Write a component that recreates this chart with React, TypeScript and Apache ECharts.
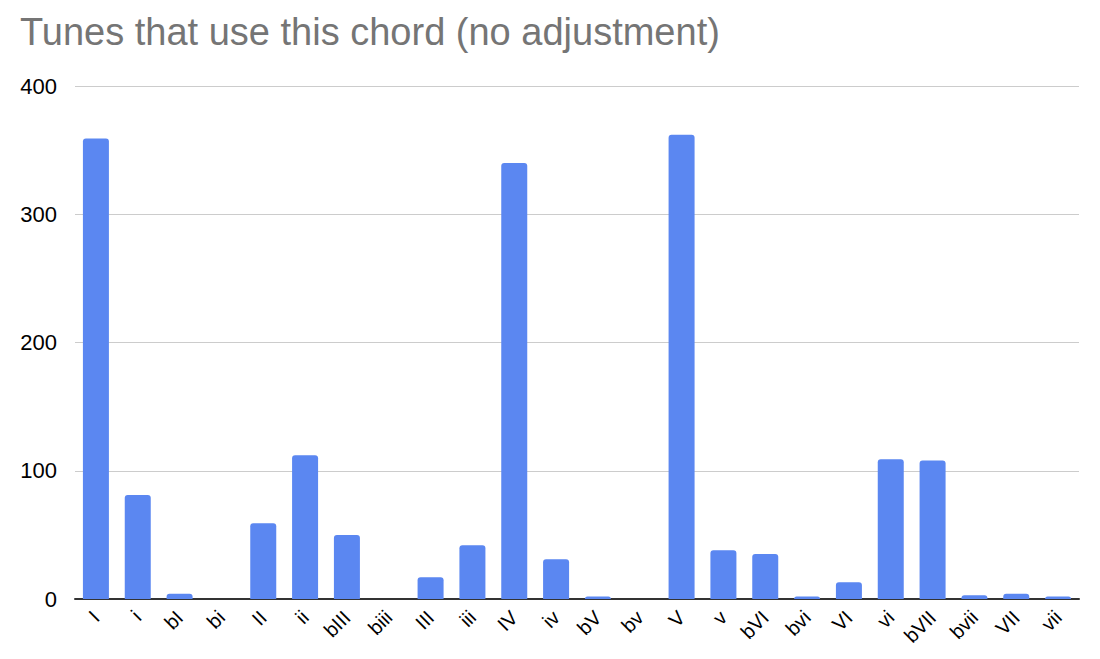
import React, { useEffect, useRef } from 'react';
import * as echarts from 'echarts';

const chords = [
  'I', 'i', 'bI', 'bi', 'II', 'ii', 'bIII', 'biii', 'III', 'iii', 'IV', 'iv',
  'bV', 'bv', 'V', 'v', 'bVI', 'bvi', 'VI', 'vi', 'bVII', 'bvii', 'VII', 'vii',
];

const tuneCounts = [
  359, 81, 4, 0, 59, 112, 50, 0, 17, 42, 340, 31,
  2, 0, 362, 38, 35, 2, 13, 109, 108, 3, 4, 2,
];

const yTicks = [0, 100, 200, 300, 400];

const FONT = '"Liberation Sans", Arial, sans-serif';

export default function App() {
  const chartRef = useRef<HTMLDivElement>(null);

  useEffect(() => {
    if (!chartRef.current) return;
    const chart = echarts.init(chartRef.current, null, { renderer: 'svg' });

    const option: echarts.EChartsOption = {
      animation: false,
      backgroundColor: '#ffffff',
      title: {
        text: 'Tunes that use this chord (no adjustment)',
        left: 7,
        top: 0,
        textStyle: {
          color: '#757575',
          fontSize: 38,
          fontWeight: 'normal',
          fontFamily: FONT,
        },
      },
      grid: {
        left: 67,
        right: 13,
        top: 78,
        bottom: 52,
      },
      xAxis: {
        type: 'category',
        data: chords,
        axisLine: { lineStyle: { color: '#333333', width: 2 } },
        axisTick: { show: false },
        axisLabel: {
          rotate: 45,
          interval: 0,
          color: '#000000',
          fontSize: 20,
          fontFamily: FONT,
          margin: 15,
        },
      },
      yAxis: {
        type: 'value',
        min: yTicks[0],
        max: yTicks[yTicks.length - 1],
        interval: 100,
        axisLine: { show: false },
        axisTick: { show: false },
        axisLabel: {
          color: '#000000',
          fontSize: 22,
          fontFamily: FONT,
          margin: 18,
        },
        splitLine: { lineStyle: { color: '#cccccc', width: 1 } },
      },
      series: [
        {
          name: 'Tunes',
          type: 'bar',
          data: tuneCounts,
          barWidth: 26,
          itemStyle: {
            color: '#5b87f1',
            borderRadius: [3, 3, 0, 0],
          },
        },
      ],
    };

    chart.setOption(option);
    return () => {
      chart.dispose();
    };
  }, []);

  return <div ref={chartRef} style={{ width: 1084, height: 643 }} />;
}
